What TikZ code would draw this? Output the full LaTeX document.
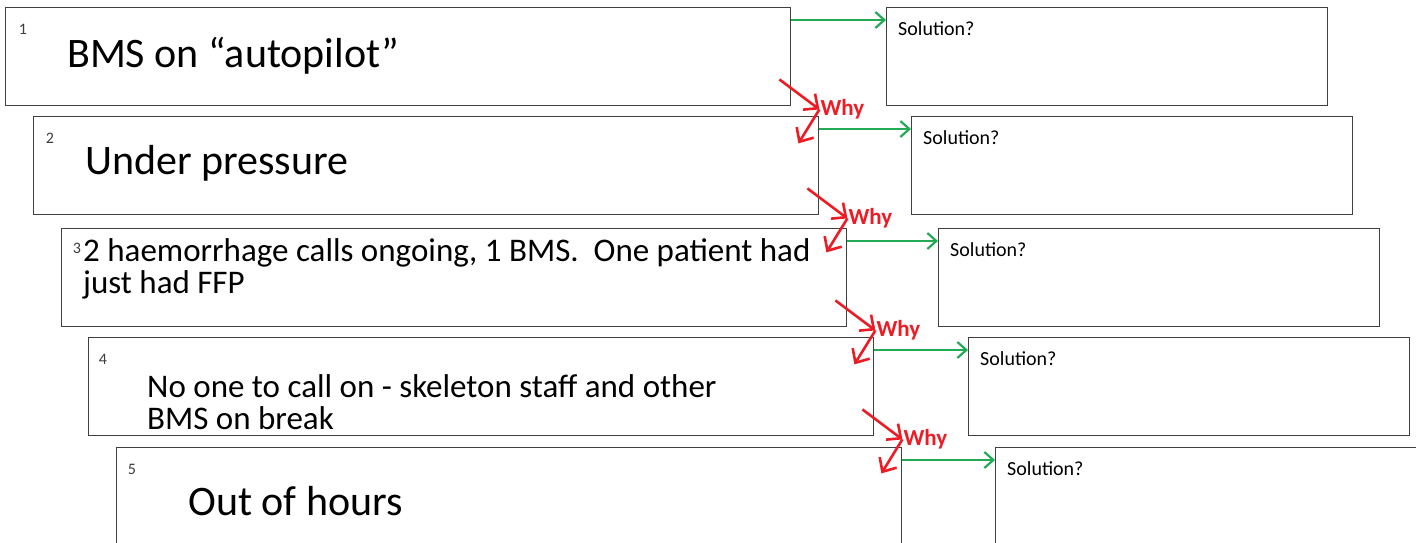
\documentclass[tikz,border=0pt]{standalone}
\usepackage{fontspec}
\setmainfont{Carlito}
\usetikzlibrary{arrows.meta,positioning}
\definecolor{boxline}{RGB}{64,64,64}
\definecolor{fixgreen}{RGB}{34,170,84}
\definecolor{whyred}{RGB}{237,28,36}
\definecolor{numgray}{RGB}{60,60,60}

\begin{document}
\begin{tikzpicture}[x=1pt, y=-1pt,
    causebox/.style={draw=boxline, line width=1.4pt, anchor=north west,
                     minimum width=785pt, minimum height=98pt, inner sep=0pt},
    solbox/.style={draw=boxline, line width=1.4pt, anchor=north west,
                   minimum width=441pt, minimum height=98pt, inner sep=0pt},
    boxnum/.style={text=numgray, inner sep=0pt, font=\fontsize{16}{18}\selectfont},
    bigtext/.style={anchor=base west, inner sep=0pt, font=\fontsize{42}{44}\selectfont},
    midtext/.style={anchor=base west, inner sep=0pt, align=left,
                    font=\fontsize{33}{32}\selectfont},
    soltext/.style={anchor=west, inner sep=0pt, font=\fontsize{20}{22}\selectfont},
    whytext/.style={anchor=west, inner sep=1pt, text=whyred,
                    font=\fontsize{23}{25}\selectfont\bfseries},
    fixarrow/.style={-{Straight Barb[length=9pt,width=16pt]}, fixgreen, line width=2.2pt},
    whyarrow/.style={-{Straight Barb[length=11pt,width=20pt]}, whyred, line width=2.6pt}
  ]
  \useasboundingbox (0,0) rectangle (1416,542);

  % cause chain
  \node[causebox] (c1) at (5,7)    {};
  \node[causebox] (c2) at (33,116) {};
  \node[causebox] (c3) at (61,228) {};
  \node[causebox] (c4) at (88,337) {};
  \node[causebox] (c5) at (116,447) {};

  % solution boxes
  \node[solbox] (s1) at (886,7)   {};
  \node[solbox] (s2) at (911,116) {};
  \node[solbox] (s3) at (938,228) {};
  \node[solbox] (s4) at (968,337) {};
  \node[solbox] (s5) at (995,447) {};

  \node[boxnum] (n1) at ([xshift=18pt,yshift=-22pt]c1.north west) {1};
  \node[boxnum] (n2) at ([xshift=17pt,yshift=-22pt]c2.north west) {2};
  \node[boxnum] (n3) at ([xshift=16pt,yshift=-20pt]c3.north west) {3};
  \node[boxnum] (n4) at ([xshift=15pt,yshift=-22pt]c4.north west) {4};
  \node[boxnum] (n5) at ([xshift=16pt,yshift=-22pt]c5.north west) {5};

  \node[bigtext] (t1) at ([xshift=62pt,yshift=-60pt]c1.north west) {BMS on “autopilot”};
  \node[bigtext] (t2) at ([xshift=52pt,yshift=-58pt]c2.north west) {Under pressure};
  \node[midtext] (t3) at ([xshift=22pt,yshift=-65pt]c3.north west)
        {2 haemorrhage calls ongoing, 1 BMS.\ \ One patient had\\just had FFP};
  \node[midtext] (t4) at ([xshift=59pt,yshift=-92pt]c4.north west)
        {No one to call on - skeleton staff and other\\BMS on break};
  \node[bigtext] (t5) at ([xshift=72pt,yshift=-68pt]c5.north west) {Out of hours};

  \node[soltext] (l1) at ([xshift=12pt,yshift=-22pt]s1.north west) {Solution?};
  \node[soltext] (l2) at ([xshift=12pt,yshift=-22pt]s2.north west) {Solution?};
  \node[soltext] (l3) at ([xshift=12pt,yshift=-22pt]s3.north west) {Solution?};
  \node[soltext] (l4) at ([xshift=12pt,yshift=-22pt]s4.north west) {Solution?};
  \node[soltext] (l5) at ([xshift=12pt,yshift=-22pt]s5.north west) {Solution?};

  % green arrows to the solutions
  \draw[fixarrow] ([yshift=-13pt]c1.north east) -- ([yshift=-13pt]s1.north west);
  \draw[fixarrow] ([yshift=-13pt]c2.north east) -- ([yshift=-13pt]s2.north west);
  \draw[fixarrow] ([yshift=-13pt]c3.north east) -- ([yshift=-13pt]s3.north west);
  \draw[fixarrow] ([yshift=-13pt]c4.north east) -- ([yshift=-13pt]s4.north west);
  \draw[fixarrow] ([yshift=-13pt]c5.north east) -- ([yshift=-13pt]s5.north west);

  % why arrows
  \coordinate (w1) at ([xshift=28pt,yshift=-3pt]c1.south east);
  \coordinate (w2) at ([xshift=28pt,yshift=-3pt]c2.south east);
  \coordinate (w3) at ([xshift=28pt,yshift=-3pt]c3.south east);
  \coordinate (w4) at ([xshift=28pt,yshift=-3pt]c4.south east);
  \coordinate (d1) at ([xshift=-21pt,yshift=-34pt]w1);
  \coordinate (d2) at ([xshift=-21pt,yshift=-34pt]w2);
  \coordinate (d3) at ([xshift=-21pt,yshift=-34pt]w3);
  \coordinate (d4) at ([xshift=-21pt,yshift=-34pt]w4);
  \draw[whyarrow] ([xshift=-12pt,yshift=27pt]c1.south east) -- (w1);
  \draw[whyarrow] ([xshift=-12pt,yshift=27pt]c2.south east) -- (w2);
  \draw[whyarrow] ([xshift=-12pt,yshift=27pt]c3.south east) -- (w3);
  \draw[whyarrow] ([xshift=-12pt,yshift=27pt]c4.south east) -- (w4);
  \draw[whyarrow] (w1) -- (d1);
  \draw[whyarrow] (w2) -- (d2);
  \draw[whyarrow] (w3) -- (d3);
  \draw[whyarrow] (w4) -- (d4);
  \node[whytext] (y1) at (w1) {Why};
  \node[whytext] (y2) at (w2) {Why};
  \node[whytext] (y3) at (w3) {Why};
  \node[whytext] (y4) at (w4) {Why};
\end{tikzpicture}
\end{document}
